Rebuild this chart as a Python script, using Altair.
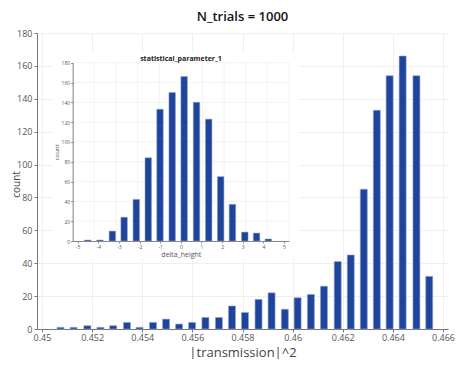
import altair as alt
import pandas as pd

# Main histogram (|transmission|^2)
main_centers = [0.45074, 0.45126, 0.45181, 0.45233, 0.45284, 0.45339, 0.45389, 0.45443,
                0.45495, 0.45547, 0.45599, 0.45652, 0.45706, 0.45758, 0.45810, 0.45864,
                0.45916, 0.45969, 0.46020, 0.46073, 0.46125, 0.46180, 0.46232, 0.46284,
                0.46336, 0.46387, 0.46439, 0.46494, 0.46545]
main_counts = [1, 1, 2, 1, 2, 4, 1, 4, 6, 3, 4, 7, 7, 14, 10, 18, 22, 12, 19, 21, 26,
               41, 45, 85, 133, 154, 166, 154, 32]
main_xticks = [0.45, 0.452, 0.454, 0.456, 0.458, 0.46, 0.462, 0.464, 0.466]
main_yticks = [0, 20, 40, 60, 80, 100, 120, 140, 160, 180]

# Inset histogram (delta_height)
inset_centers = [-4.51, -3.92, -3.32, -2.75, -2.16, -1.58, -1.01, -0.42, 0.16, 0.76,
                 1.35, 1.93, 2.50, 3.10, 3.67, 4.24]
inset_counts = [1, 1, 10, 24, 42, 84, 133, 150, 166, 140, 123, 65, 37, 9, 8, 2]
inset_xticks = [-5, -4, -3, -2, -1, 0, 1, 2, 3, 4, 5]
inset_yticks = [0, 20, 40, 60, 80, 100, 120, 140, 160, 180]

FONT = "Open Sans"
BAR = "#1f449b"
EDGE = "#8ea2d2"
W, H = 411, 296

main_df = pd.DataFrame({"x": main_centers, "count": main_counts})
inset_df = pd.DataFrame({"x": inset_centers, "count": inset_counts})
vgrid = pd.DataFrame({"x": inset_xticks, "y0": 0, "y1": 180})
hgrid = pd.DataFrame({"y": inset_yticks, "x0": -5, "x1": 5})

main_bars = alt.Chart(main_df).mark_bar(size=7, color=BAR, stroke=EDGE, strokeWidth=0.6).encode(
    x=alt.X("x:Q", scale=alt.Scale(domain=[0.45, 0.466], nice=False, zero=False),
            axis=alt.Axis(orient="bottom", values=main_xticks, format=".3~f",
                          title="|transmission|^2", titleFontSize=13, titleFontWeight="normal",
                          titleColor="#444", titleFont=FONT, titlePadding=4,
                          labelFont=FONT, labelFontSize=9, labelColor="#555",
                          tickSize=3, tickColor="#777", domainColor="#777",
                          grid=True, gridColor="#efefef", labelPadding=1)),
    y=alt.Y("count:Q", scale=alt.Scale(domain=[0, 180], nice=False),
            axis=alt.Axis(orient="left", values=main_yticks, title="count",
                          titleFontSize=10, titleFontWeight="normal", titleColor="#444",
                          titleFont=FONT, titleX=-16, titleY=151,
                          labelFont=FONT, labelFontSize=9, labelColor="#555",
                          tickSize=3, tickColor="#777", domainColor="#777",
                          grid=True, gridColor="#efefef", labelPadding=2)),
)

# White panel behind the inset (layout decoration)
bg = alt.Chart(pd.DataFrame({"a": [0]})).mark_rect(color="white").encode(
    x=alt.value(15), x2=alt.value(262), y=alt.value(20), y2=alt.value(226)
)


def ix():
    return alt.Scale(domain=[-5, 5], range=[35.7, 252], nice=False, zero=False)


def iy():
    return alt.Scale(domain=[0, 180], range=[208, 29.7], nice=False, zero=False)


inset_vgrid = alt.Chart(vgrid).mark_rule(color="#eeeeee", strokeWidth=0.7).encode(
    x=alt.X("x:Q", scale=ix(), axis=None),
    y=alt.Y("y0:Q", scale=iy(), axis=None),
    y2="y1:Q",
)
inset_hgrid = alt.Chart(hgrid).mark_rule(color="#eeeeee", strokeWidth=0.7).encode(
    y=alt.Y("y:Q", scale=iy(), axis=None),
    x=alt.X("x0:Q", scale=ix(), axis=None),
    x2="x1:Q",
)
inset_bars = alt.Chart(inset_df).mark_bar(size=6.5, color=BAR, stroke=EDGE, strokeWidth=0.5).encode(
    x=alt.X("x:Q", scale=ix(),
            axis=alt.Axis(orient="bottom", offset=-(H - 208), values=inset_xticks,
                          labelExpr="'' + datum.value", zindex=1,
                          title="delta_height", titleFontSize=7, titleFontWeight="normal",
                          titleColor="#555", titleFont=FONT, titlePadding=1,
                          labelFont=FONT, labelFontSize=5, labelColor="#555",
                          tickSize=2, tickColor="#888", domainColor="#888",
                          grid=False, labelPadding=1)),
    y=alt.Y("count:Q", scale=iy(),
            axis=alt.Axis(orient="left", offset=-35.7, values=inset_yticks, zindex=1,
                          title="count", titleFontSize=6, titleFontWeight="normal",
                          titleColor="#555", titleFont=FONT, titlePadding=2,
                          labelFont=FONT, labelFontSize=5, labelColor="#555",
                          tickSize=2, tickColor="#888", domainColor="#888",
                          grid=False, labelPadding=1)),
)
inset_title = alt.Chart(pd.DataFrame({"t": ["statistical_parameter_1"]})).mark_text(
    font=FONT, fontSize=7, fontWeight="bold", color="#222", baseline="bottom"
).encode(text="t:N", x=alt.value(144), y=alt.value(29))

chart = alt.layer(main_bars, bg, inset_vgrid, inset_hgrid, inset_bars, inset_title).resolve_scale(
    x="independent", y="independent"
).properties(
    width=W, height=H,
    title=alt.TitleParams("N_trials = 1000", font=FONT, fontSize=13, fontWeight=600,
                          color="#111", anchor="middle", offset=5),
    autosize=alt.AutoSizeParams(type="none"),
    padding={"left": 29, "top": 25, "right": 10, "bottom": 30},
).configure_view(strokeWidth=0)

chart.save("out.html", embed_options={"renderer": "svg", "actions": False})
